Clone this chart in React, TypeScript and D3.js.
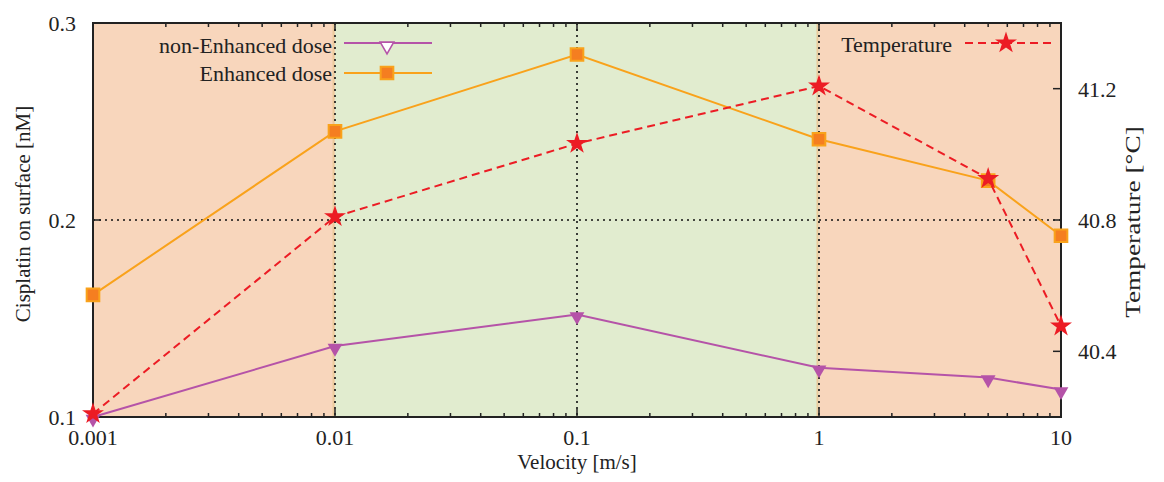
import React, { useEffect, useRef } from "react";
import * as d3 from "d3";

const velocity = [0.001, 0.01, 0.1, 1, 5, 10];
const nonEnhanced = [0.1, 0.136, 0.152, 0.125, 0.12, 0.114];
const enhanced = [0.162, 0.245, 0.284, 0.241, 0.22, 0.192];
const temperature = [40.21, 40.81, 41.033, 41.208, 40.926, 40.477];

const xTicks = [0.001, 0.01, 0.1, 1, 10];
const xTickLabels = ["0.001", "0.01", "0.1", "1", "10"];
const yTicks = [0.1, 0.2, 0.3];
const y2Ticks = [40.4, 40.8, 41.2];

const regions = [
  { from: 0.001, to: 0.01, color: "#f8d6bc" },
  { from: 0.01, to: 1, color: "#e1eccf" },
  { from: 1, to: 10, color: "#f8d6bc" },
];

const FONT = '"Liberation Serif", "Times New Roman", Times, "DejaVu Serif", serif';

export default function App() {
  const ref = useRef<SVGSVGElement>(null);

  useEffect(() => {
    const svg = d3.select(ref.current);
    svg.selectAll("*").remove();

    const left = 93, right = 1061, top = 23, bottom = 417;

    const x = d3.scaleLog().domain([0.001, 10]).range([left, right]);
    const y = d3.scaleLinear().domain([0.1, 0.3]).range([bottom, top]);
    const y2 = d3.scaleLinear().domain([40.2, 41.4]).range([bottom, top]);

    // background regions
    svg
      .selectAll(".region")
      .data(regions)
      .enter()
      .append("rect")
      .attr("x", (d) => x(d.from))
      .attr("y", top)
      .attr("width", (d) => x(d.to) - x(d.from))
      .attr("height", bottom - top)
      .attr("fill", (d) => d.color);

    // thin boundaries between regions
    [0.01, 1].forEach((v) => {
      svg
        .append("line")
        .attr("x1", x(v) - 1.5)
        .attr("x2", x(v) - 1.5)
        .attr("y1", top)
        .attr("y2", bottom)
        .attr("stroke", "#ebca9c")
        .attr("stroke-width", 2);
    });

    // grid
    const grid = svg.append("g").attr("stroke", "#111").attr("stroke-width", 1.6).attr("stroke-dasharray", "2,4");
    [0.01, 0.1, 1].forEach((v) => {
      grid.append("line").attr("x1", x(v)).attr("x2", x(v)).attr("y1", top).attr("y2", bottom);
    });
    [0.2].forEach((v) => {
      grid.append("line").attr("x1", left).attr("x2", right).attr("y1", y(v)).attr("y2", y(v));
    });

    // ticks
    const ticks = svg.append("g").attr("stroke", "#222").attr("stroke-width", 1.5);
    const minor: number[] = [];
    for (let e = -3; e < 1; e++) {
      for (let m = 2; m <= 9; m++) minor.push(m * Math.pow(10, e));
    }
    minor.forEach((v) => {
      ticks.append("line").attr("x1", x(v)).attr("x2", x(v)).attr("y1", bottom).attr("y2", bottom - 4);
      ticks.append("line").attr("x1", x(v)).attr("x2", x(v)).attr("y1", top).attr("y2", top + 4);
    });
    xTicks.forEach((v) => {
      ticks.append("line").attr("x1", x(v)).attr("x2", x(v)).attr("y1", bottom).attr("y2", bottom - 8);
      ticks.append("line").attr("x1", x(v)).attr("x2", x(v)).attr("y1", top).attr("y2", top + 8);
    });
    yTicks.forEach((v) => {
      ticks.append("line").attr("x1", left).attr("x2", left + 8).attr("y1", y(v)).attr("y2", y(v));
    });
    y2Ticks.forEach((v) => {
      ticks.append("line").attr("x1", right).attr("x2", right - 8).attr("y1", y2(v)).attr("y2", y2(v));
    });

    // border
    svg
      .append("rect")
      .attr("x", left)
      .attr("y", top)
      .attr("width", right - left)
      .attr("height", bottom - top)
      .attr("fill", "none")
      .attr("stroke", "#222")
      .attr("stroke-width", 2);

    // tick labels
    const labels = svg.append("g").style("font-family", FONT).style("font-size", "22px").attr("fill", "#222");
    xTicks.forEach((v, i) => {
      labels.append("text").attr("x", x(v)).attr("y", 445).attr("text-anchor", "middle").text(xTickLabels[i]);
    });
    yTicks.forEach((v) => {
      labels.append("text").attr("x", 76).attr("y", y(v) + 8).attr("text-anchor", "end").text(String(v));
    });
    y2Ticks.forEach((v) => {
      labels.append("text").attr("x", 1078).attr("y", y2(v) + 8).attr("text-anchor", "start").text(v.toFixed(1));
    });

    // axis titles
    const titles = svg.append("g").style("font-family", FONT).style("font-size", "21px").attr("fill", "#222");
    titles.append("text").attr("x", (left + right) / 2).attr("y", 469).attr("text-anchor", "middle").text("Velocity [m/s]");
    titles
      .append("text")
      .attr("transform", "translate(30,214) rotate(-90)")
      .attr("text-anchor", "middle")
      .text("Cisplatin on surface [nM]");
    titles
      .append("text")
      .attr("transform", "translate(1140,222) rotate(-90) scale(1.3,1)")
      .attr("text-anchor", "middle")
      .text("Temperature [°C]");

    const purple = "#b553a8";
    const orange = "#f9a21b";
    const orangeFill = "#f57e20";
    const red = "#ec1c24";

    const tri = d3.symbol(d3.symbolTriangle, 95);
    const sq = d3.symbol(d3.symbolSquare, 160);
    const star = d3.symbol(d3.symbolStar, 150);

    const line1 = d3.line<number>().x((_, i) => x(velocity[i])).y((d) => y(d));
    const line2 = d3.line<number>().x((_, i) => x(velocity[i])).y((d) => y2(d));

    // non-enhanced
    svg.append("path").attr("d", line1(nonEnhanced)).attr("fill", "none").attr("stroke", purple).attr("stroke-width", 2);
    svg
      .selectAll(".tri")
      .data(nonEnhanced)
      .enter()
      .append("path")
      .attr("d", tri)
      .attr("transform", (d, i) => `translate(${x(velocity[i])},${y(d) + 2}) rotate(180)`)
      .attr("fill", purple);

    // enhanced
    svg.append("path").attr("d", line1(enhanced)).attr("fill", "none").attr("stroke", orange).attr("stroke-width", 2);
    svg
      .selectAll(".sq")
      .data(enhanced)
      .enter()
      .append("path")
      .attr("d", sq)
      .attr("transform", (d, i) => `translate(${x(velocity[i])},${y(d)})`)
      .attr("fill", orangeFill)
      .attr("stroke", orange)
      .attr("stroke-width", 2);

    // temperature
    svg
      .append("path")
      .attr("d", line2(temperature))
      .attr("fill", "none")
      .attr("stroke", red)
      .attr("stroke-width", 2)
      .attr("stroke-dasharray", "8,5");
    svg
      .selectAll(".star")
      .data(temperature)
      .enter()
      .append("path")
      .attr("d", star)
      .attr("transform", (d, i) => `translate(${x(velocity[i])},${y2(d)})`)
      .attr("fill", red);

    // legend
    const lg = svg.append("g").style("font-family", FONT).style("font-size", "22px").attr("fill", "#222");
    lg.append("text").attr("x", 332).attr("y", 53).attr("text-anchor", "end").text("non-Enhanced dose");
    lg.append("line").attr("x1", 344).attr("x2", 432).attr("y1", 43).attr("y2", 43).attr("stroke", purple).attr("stroke-width", 2);
    lg.append("path")
      .attr("d", d3.symbol(d3.symbolTriangle, 80)())
      .attr("transform", "translate(387,46) rotate(180)")
      .attr("fill", "#fff")
      .attr("stroke", purple)
      .attr("stroke-width", 1.6);

    lg.append("text").attr("x", 332).attr("y", 81).attr("text-anchor", "end").text("Enhanced dose");
    lg.append("line").attr("x1", 344).attr("x2", 432).attr("y1", 73).attr("y2", 73).attr("stroke", orange).attr("stroke-width", 2);
    lg.append("path")
      .attr("d", sq())
      .attr("transform", "translate(387,73)")
      .attr("fill", orangeFill)
      .attr("stroke", orange)
      .attr("stroke-width", 2);

    lg.append("text").attr("x", 952).attr("y", 52).attr("text-anchor", "end").text("Temperature");
    lg.append("line")
      .attr("x1", 965)
      .attr("x2", 1052)
      .attr("y1", 43)
      .attr("y2", 43)
      .attr("stroke", red)
      .attr("stroke-width", 2)
      .attr("stroke-dasharray", "8,5");
    lg.append("path").attr("d", star()).attr("transform", "translate(1006,43)").attr("fill", red);
  }, []);

  return (
    <svg
      ref={ref}
      width={1164}
      height={482}
      style={{ position: "absolute", left: 0, top: 0, background: "#fff" }}
    />
  );
}
